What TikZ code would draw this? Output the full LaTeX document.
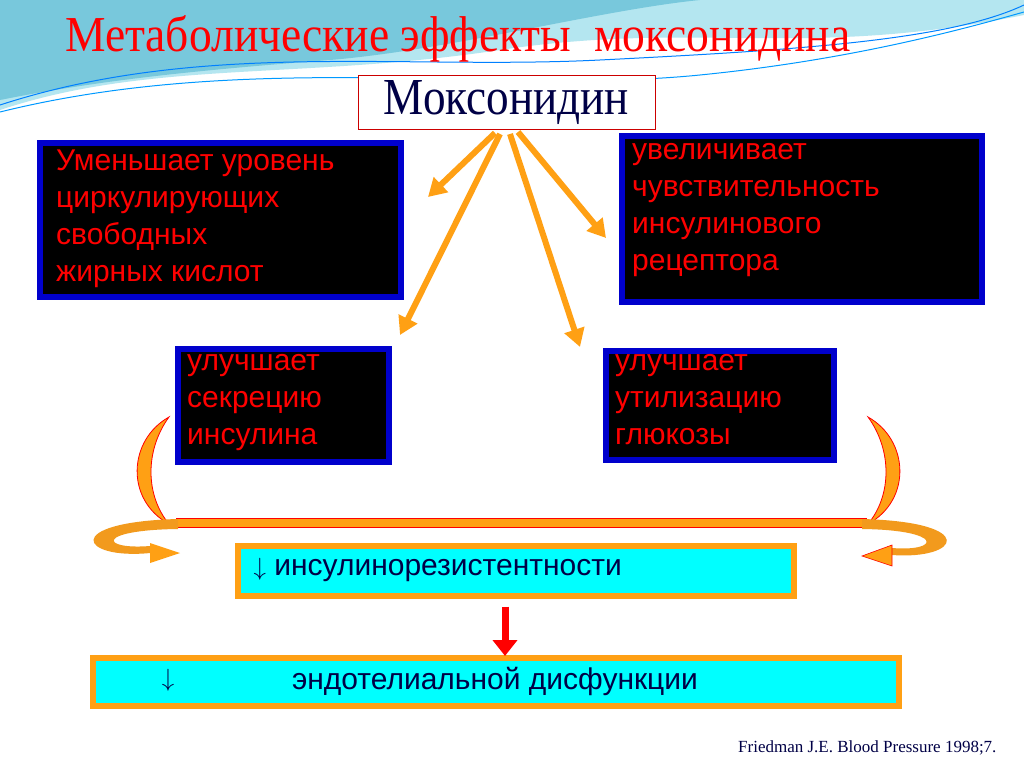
\documentclass[tikz,border=0pt]{standalone}
\usepackage{fontspec}
\setmainfont{Liberation Serif}
\setsansfont{Liberation Sans}
\usetikzlibrary{arrows.meta}
\definecolor{navy}{RGB}{0,0,70}
\definecolor{orng}{RGB}{255,160,20}
\definecolor{cyanb}{RGB}{0,255,255}
\definecolor{wave}{RGB}{120,200,220}
\definecolor{wave2}{RGB}{180,230,240}
\tikzset{
 blk/.style={draw=blue!80!black,line width=6pt,fill=black,inner sep=0pt},
 rtxt/.style={text=red,font=\sffamily\fontsize{30}{37}\selectfont,align=left,anchor=north west,inner sep=0pt},
 cyb/.style={draw=orng,line width=6pt,fill=cyanb},
 oarr/.style={orng,line width=6pt,-{Triangle[length=18pt,width=20pt]}}
}
\begin{document}
\begin{tikzpicture}[x=1pt,y=-1pt]
\useasboundingbox (0,0) rectangle (1024,767);
\fill[white] (0,0) rectangle (1024,767);
% background waves
\fill[wave2] (0,0) -- (1024,0) -- (1024,15) .. controls (800,60) and (700,20) .. (500,50) .. controls (300,80) and (150,60) .. (0,110) -- cycle;
\fill[wave] (0,0) -- (700,0) .. controls (600,10) and (450,50) .. (330,60) .. controls (200,70) and (100,80) .. (0,100) -- cycle;
\draw[blue!50!cyan,line width=1pt] (0,105) .. controls (200,40) and (400,70) .. (600,60) .. controls (800,50) and (950,40) .. (1024,5);
\draw[blue!40!cyan,line width=1pt] (0,112) .. controls (250,50) and (500,95) .. (700,75) .. controls (850,60) and (960,30) .. (1024,12);
\node[text=red,inner sep=0pt,anchor=south west] (title) at (65,62) {\resizebox{785pt}{36pt}{Метаболические эффекты\ \ моксонидина}};
% main box
\node[draw=red!80!black,fill=white,line width=1pt,minimum width=297pt,minimum height=54pt,inner sep=0pt] (mox) at (506.5,103) {};
\node[text=navy] at (mox.center) {\resizebox{245pt}{34pt}{Моксонидин}};
% black boxes
\node[blk,minimum width=361pt,minimum height=154pt] (b1) at (220.5,220) {};
\node[rtxt] at (56,150) {Уменьшает уровень\\циркулирующих\\свободных\\жирных кислот};
\node[blk,minimum width=360pt,minimum height=166pt] (b2) at (802,219) {};
\node[rtxt] at (632,143) {увеличивает\\чувствительность\\инсулинового\\рецептора};
\node[blk,minimum width=211pt,minimum height=113pt] (b3) at (283.5,405.5) {};
\node[rtxt] at (187,354) {улучшает\\секрецию\\инсулина};
\node[blk,minimum width=228pt,minimum height=109pt] (b4) at (720,405.5) {};
\node[rtxt] at (615,354) {улучшает\\утилизацию\\глюкозы};
% arrows
\coordinate (s1) at (495,133); \coordinate (s2) at (500,134);
\coordinate (s3) at (510,134); \coordinate (s4) at (518,132);
\coordinate (e1) at (428,197); \coordinate (e2) at (400,335);
\coordinate (e3) at (580,347); \coordinate (e4) at (606,238);
\draw[oarr] (s1) -- (e1);
\draw[oarr] (s2) -- (e2);
\draw[oarr] (s3) -- (e3);
\draw[oarr] (s4) -- (e4);
% bar
\draw[red,fill=orng,line width=0.8pt] (176,518) rectangle (866,527);
% crescents
\draw[red,fill=orng,line width=0.8pt] (169,417) .. controls (128,440) and (125,500) .. (169,524) .. controls (145,495) and (145,450) .. cycle;
\draw[red,fill=orng,line width=0.8pt] (868,417) .. controls (909,440) and (912,500) .. (868,524) .. controls (892,495) and (892,450) .. cycle;
% curls
\fill[orng!80!brown] (178,519) .. controls (60,522) and (80,560) .. (150,553) -- (150,546) .. controls (100,550) and (95,530) .. (178,529) -- cycle;
\fill[orng] (150,543) -- (180,553) -- (150,563) -- cycle;
\fill[orng!80!brown] (862,519) .. controls (980,522) and (960,560) .. (892,555) -- (892,548) .. controls (940,552) and (945,530) .. (862,529) -- cycle;
\draw[red,fill=orng,line width=0.6pt] (892,545) -- (862,556) -- (892,566) -- cycle;
% cyan boxes
\node[cyb,minimum width=556pt,minimum height=50pt,inner sep=0pt] (c1) at (516,570.5) {};
\node[text=navy,font=\sffamily\fontsize{30}{36}\selectfont,anchor=west] at (250,570) {$\downarrow$ инсулинорезистентности};
\node[cyb,minimum width=806pt,minimum height=48pt,inner sep=0pt] (c2) at (496,681.5) {};
\node[text=navy,font=\fontsize{30}{36}\selectfont] at (168,680) {$\downarrow$};
\node[text=navy,font=\sffamily\fontsize{30}{36}\selectfont] at (495,681) {эндотелиальной дисфункции};
\draw[red,line width=7pt,-{Triangle[length=16pt,width=24pt]}] (c1.south -| 505,0) ++(0,8) -- (505,656);
\node[text=navy,font=\fontsize{17}{20}\selectfont,anchor=east] (ref) at (1000,748) {Friedman J.E. Blood Pressure 1998;7.};
\end{tikzpicture}
\end{document}
